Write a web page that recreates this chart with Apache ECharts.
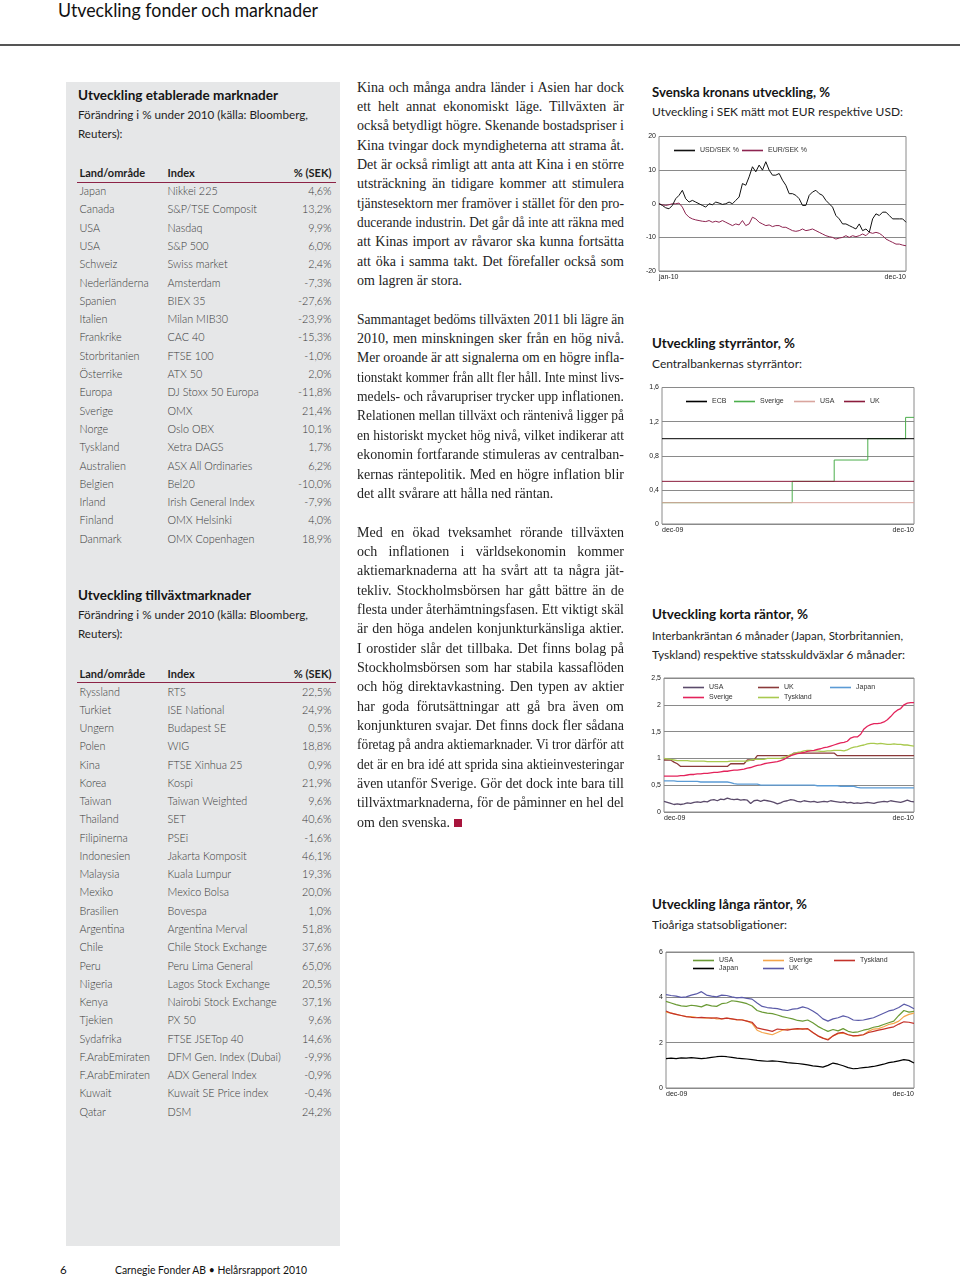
<!DOCTYPE html>
<html><head><meta charset="utf-8">
<script src="https://cdn.jsdelivr.net/npm/echarts@6/dist/echarts.min.js"></script>
<style>
html,body{margin:0;padding:0;background:#fff;}
body{width:960px;height:1279px;position:relative;overflow:hidden;font-family:Lato,'Open Sans',sans-serif;}
.abs{position:absolute;white-space:nowrap;}
#panel{position:absolute;left:66px;top:82px;width:274px;height:1164px;background:#e6e7e8;}
#hline{position:absolute;left:0;top:44px;width:960px;height:1.5px;background:#555;}
.rule{position:absolute;left:77px;width:259px;height:1.5px;background:#8c2346;}
.chart{position:absolute;left:640px;width:280px;}
.body{font-family:'Liberation Serif',serif;font-size:14px;color:#232323;}
.sq{display:inline-block;width:8px;height:8px;background:#a8143c;margin-left:4px;vertical-align:0px;}
</style></head>
<body>
<div id="panel"></div>
<div id="hline"></div>
<div class="rule" style="top:181.5px"></div>
<div class="rule" style="top:681.5px"></div>
<div id="c1" class="chart" style="top:130px;height:155px"></div>
<div id="c2" class="chart" style="top:380px;height:160px"></div>
<div id="c3" class="chart" style="top:670px;height:155px"></div>
<div id="c4" class="chart" style="top:944px;height:160px"></div>
<script>
// ---------- DATA ----------
const pageTitle = 'Utveckling fonder och marknader';
const footerPage = '6';
const footerText = 'Carnegie Fonder AB • Helårsrapport 2010';

const t1Title = 'Utveckling etablerade marknader';
const t2Title = 'Utveckling tillväxtmarknader';
const tSub = ['Förändring i % under 2010 (källa: Bloomberg,', 'Reuters):'];
const tHead = ['Land/område', 'Index', '% (SEK)'];

const estCountries = ['Japan','Canada','USA','USA','Schweiz','Nederländerna','Spanien','Italien','Frankrike','Storbritanien','Österrike','Europa','Sverige','Norge','Tyskland','Australien','Belgien','Irland','Finland','Danmark'];
const estIndex = ['Nikkei 225','S&P/TSE Composit','Nasdaq','S&P 500','Swiss market','Amsterdam','BIEX 35','Milan MIB30','CAC 40','FTSE 100','ATX 50','DJ Stoxx 50 Europa','OMX','Oslo OBX','Xetra DAGS','ASX All Ordinaries','Bel20','Irish General Index','OMX Helsinki','OMX Copenhagen'];
const estChange = ['4,6%','13,2%','9,9%','6,0%','2,4%','-7,3%','-27,6%','-23,9%','-15,3%','-1,0%','2,0%','-11,8%','21,4%','10,1%','1,7%','6,2%','-10,0%','-7,9%','4,0%','18,9%'];

const emCountries = ['Ryssland','Turkiet','Ungern','Polen','Kina','Korea','Taiwan','Thailand','Filipinerna','Indonesien','Malaysia','Mexiko','Brasilien','Argentina','Chile','Peru','Nigeria','Kenya','Tjekien','Sydafrika','F.ArabEmiraten','F.ArabEmiraten','Kuwait','Qatar'];
const emIndex = ['RTS','ISE National','Budapest SE','WIG','FTSE Xinhua 25','Kospi','Taiwan Weighted','SET','PSEi','Jakarta Komposit','Kuala Lumpur','Mexico Bolsa','Bovespa','Argentina Merval','Chile Stock Exchange','Peru Lima General','Lagos Stock Exchange','Nairobi Stock Exchange','PX 50','FTSE JSETop 40','DFM Gen. Index (Dubai)','ADX General Index','Kuwait SE Price index','DSM'];
const emChange = ['22,5%','24,9%','0,5%','18,8%','0,9%','21,9%','9,6%','40,6%','-1,6%','46,1%','19,3%','20,0%','1,0%','51,8%','37,6%','65,0%','20,5%','37,1%','9,6%','14,6%','-9,9%','-0,9%','-0,4%','24,2%'];

const para1 = ['Kina och många andra länder i Asien har dock','ett helt annat ekonomiskt läge. Tillväxten är','också betydligt högre. Skenande bostadspriser i','Kina tvingar dock myndigheterna att strama åt.','Det är också rimligt att anta att Kina i en större','utsträckning än tidigare kommer att stimulera','tjänstesektorn mer framöver i stället för den pro-','ducerande industrin. Det går då inte att räkna med','att Kinas import av råvaror ska kunna fortsätta','att öka i samma takt. Det förefaller också som','om lagren är stora.'];
const para2 = ['Sammantaget bedöms tillväxten 2011 bli lägre än','2010, men minskningen sker från en hög nivå.','Mer oroande är att signalerna om en högre infla-','tionstakt kommer från allt fler håll. Inte minst livs-','medels- och råvarupriser trycker upp inflationen.','Relationen mellan tillväxt och räntenivå ligger på','en historiskt mycket hög nivå, vilket indikerar att','ekonomin fortfarande stimuleras av centralban-','kernas räntepolitik.  Med en högre inflation blir','det allt svårare att hålla ned räntan.'];
const para3 = ['Med en ökad tveksamhet rörande tillväxten','och inflationen i världsekonomin kommer','aktiemarknaderna att ha svårt att ta några jät-','tekliv. Stockholmsbörsen har gått bättre än de','flesta under återhämtningsfasen. Ett viktigt skäl','är den höga andelen konjunkturkänsliga aktier.','I orostider slår det tillbaka. Det finns bolag på','Stockholmsbörsen som har stabila kassaflöden','och hög direktavkastning. Den typen av aktier','har goda förutsättningar att gå bra även om','konjunkturen svajar. Det finns dock fler sådana','företag på andra aktiemarknader. Vi tror därför att','det är en bra idé att sprida sina aktieinvesteringar','även utanför Sverige. Gör det dock inte bara till','tillväxtmarknaderna, för de påminner en hel del','om den svenska.'];

// Chart 1: Svenska kronans utveckling
const c1Title = 'Svenska kronans utveckling, %';
const c1Sub = 'Utveckling i SEK mätt mot EUR respektive USD:';
const c1XLabels = ['jan-10','dec-10'];
const usdSek = [0,-0.5,-1.2,-1.5,-0.5,1.5,2.5,4,1.5,0.5,1,0.5,0,-0.5,-1,0,-0.3,0.5,0.2,-0.2,0,0.5,0,1,2,6,5.5,8,11,9.5,11.5,10,12.5,10,8.5,8.5,9,7,5.5,3,3,2.5,1.5,-0.5,-0.5,2.5,3.5,4,3,2.5,1,0,-1,-3.5,-4.5,-6,-6,-6.5,-7,-7.5,-6,-8,-7.5,-8.5,-4.5,-3,-3.5,-2.5,-2.5,-3.5,-4.5,-4.5,-4.5,-4.5,-5.5];
const eurSek = [0,-0.3,-0.5,-0.3,0,0,0.2,-1,-3,-4,-4.5,-4.8,-5,-5.2,-5.3,-5,-5.5,-5.2,-5.5,-5,-5.5,-6,-6.5,-6,-6.3,-5,-6.5,-6,-4,-4.5,-5.5,-6,-6.5,-6.3,-6.8,-6.5,-6.5,-7,-7,-7.5,-8,-8.2,-8,-7.5,-8,-7.8,-7.5,-8,-8.5,-9,-9.5,-9.8,-10,-10.5,-10.2,-10,-9.5,-10,-9.5,-9.8,-9.5,-9,-9.5,-8.5,-8.8,-8.5,-8.8,-9.5,-10.5,-11,-11.5,-12,-12,-12.3,-12.5];

// Chart 2: Styrräntor (step changes: period index -> rate)
const c2Title = 'Utveckling styrräntor, %';
const c2Sub = 'Centralbankernas styrräntor:';
const c2XLabels = ['dec-09','dec-10'];
const c2Periods = 60;
const ecbAt = [0,60], ecbRate = [1.0,1.0];
const sverigeAt = [0,31,41,49,58,60], sverigeRate = [0.25,0.5,0.75,1.0,1.25,1.25];
const usaAt = [0,60], usaRate = [0.25,0.25];
const ukAt = [0,60], ukRate = [0.5,0.5];

// Chart 3: Korta räntor
const c3Title = 'Utveckling korta räntor, %';
const c3Sub = ['Interbankräntan 6 månader (Japan, Storbritannien,','Tyskland) respektive statsskuldväxlar 6 månader:'];
const c3XLabels = ['dec-09','dec-10'];
const usa3 = [0.2,0.18,0.16,0.14,0.15,0.14,0.15,0.17,0.16,0.18,0.19,0.18,0.2,0.19,0.22,0.23,0.21,0.24,0.23,0.26,0.24,0.23,0.24,0.22,0.23,0.22,0.16,0.21,0.22,0.2,0.22,0.21,0.2,0.18,0.15,0.17,0.2,0.21,0.23,0.22,0.2,0.19,0.21,0.2,0.19,0.2,0.18,0.19,0.2,0.19,0.21,0.2,0.19,0.18,0.19,0.17,0.18,0.16,0.17,0.16,0.17,0.18,0.17,0.16,0.18,0.19,0.2,0.19,0.21,0.2,0.19,0.18,0.2,0.22,0.2,0.19];
const uk3 = [0.97,0.97,0.97,0.93,0.9,0.85,0.85,0.85,0.85,0.85,0.85,0.85,0.85,0.85,0.85,0.85,0.85,0.85,0.85,0.85,0.9,0.9,0.9,0.9,0.9,0.97,0.97,0.97,1.05,1.05,1.05,1.05,1.05,1.05,1.05,1.05,1.05,1.05,1.05,1.1,1.1,1.1,1.1,1.1,1.1,1.1,1.1,1.1,1.1,1.1,1.1,1.1,1.05,1.05,1.05,1.05,1.05,1.05,1.05,1.05,1.05,1.05,1.05,1.05,1.05,1.05,1.05,1.05,1.05,1.05,1.05,1.05,1.05,1.05,1.05,1.05];
const japan3 = [0.58,0.58,0.58,0.58,0.57,0.57,0.57,0.57,0.57,0.57,0.57,0.56,0.56,0.56,0.56,0.56,0.56,0.56,0.56,0.56,0.55,0.53,0.52,0.52,0.52,0.52,0.52,0.52,0.52,0.5,0.5,0.5,0.5,0.5,0.5,0.5,0.5,0.5,0.5,0.5,0.5,0.5,0.5,0.5,0.5,0.5,0.49,0.49,0.49,0.49,0.49,0.49,0.49,0.48,0.48,0.48,0.48,0.48,0.46,0.45,0.45,0.45,0.45,0.45,0.45,0.45,0.45,0.45,0.45,0.45,0.45,0.45,0.45,0.45,0.45,0.45];
const sverige3 = [0.67,0.67,0.67,0.67,0.67,0.68,0.68,0.69,0.7,0.7,0.71,0.71,0.72,0.72,0.73,0.74,0.74,0.75,0.76,0.76,0.77,0.78,0.78,0.79,0.8,0.82,0.83,0.85,0.87,0.88,0.9,0.91,0.92,0.93,0.94,0.96,0.98,1.02,1.05,1.07,1.09,1.1,1.11,1.13,1.14,1.15,1.17,1.18,1.2,1.21,1.23,1.25,1.27,1.29,1.3,1.32,1.38,1.4,1.4,1.45,1.55,1.6,1.63,1.65,1.65,1.66,1.68,1.72,1.78,1.85,1.9,1.93,2.0,2.03,2.04,2.04];
const tyskland3 = [1.0,0.99,0.98,0.97,0.96,0.96,0.96,0.96,0.95,0.95,0.95,0.95,0.95,0.94,0.94,0.94,0.94,0.94,0.94,0.94,0.95,0.95,0.95,0.95,0.95,0.95,0.97,0.98,0.98,0.98,0.98,1.0,1.0,1.0,1.0,1.0,1.02,1.04,1.07,1.09,1.11,1.12,1.14,1.15,1.15,1.14,1.14,1.13,1.13,1.14,1.14,1.15,1.15,1.15,1.14,1.16,1.19,1.21,1.22,1.24,1.25,1.27,1.28,1.28,1.27,1.28,1.27,1.26,1.26,1.27,1.26,1.26,1.25,1.25,1.24,1.23];

// Chart 4: Långa räntor
const c4Title = 'Utveckling långa räntor, %';
const c4Sub = 'Tioåriga statsobligationer:';
const c4XLabels = ['dec-09','dec-10'];
const usa4 = [3.82,3.75,3.68,3.62,3.6,3.65,3.62,3.58,3.68,3.62,3.6,3.72,3.75,3.85,3.82,3.78,3.72,3.62,3.42,3.35,3.3,3.28,3.22,3.15,3.1,3.05,2.98,2.95,3.0,2.88,2.72,2.6,2.5,2.58,2.52,2.62,2.5,2.45,2.48,2.55,2.6,2.68,2.72,2.8,2.88,2.95,3.2,3.42,3.35,3.38];
const sverige4 = [3.35,3.3,3.25,3.2,3.15,3.15,3.12,3.1,3.08,3.1,3.05,3.05,3.08,3.05,3.0,3.02,2.95,2.85,2.55,2.45,2.4,2.35,2.45,2.55,2.6,2.58,2.6,2.62,2.6,2.45,2.3,2.2,2.15,2.3,2.4,2.42,2.35,2.3,2.3,2.35,2.5,2.6,2.62,2.7,2.8,2.85,2.95,3.15,3.25,3.3];
const tyskland4 = [3.4,3.3,3.25,3.2,3.15,3.12,3.1,3.12,3.1,3.08,3.1,3.05,3.08,3.05,3.02,3.0,2.95,2.9,2.65,2.6,2.55,2.5,2.6,2.58,2.55,2.6,2.62,2.6,2.62,2.45,2.3,2.2,2.12,2.3,2.42,2.45,2.35,2.3,2.32,2.35,2.45,2.5,2.55,2.6,2.65,2.7,2.82,2.92,2.9,2.85];
const japan4 = [1.3,1.32,1.3,1.33,1.32,1.34,1.32,1.3,1.32,1.35,1.38,1.4,1.38,1.35,1.32,1.3,1.28,1.25,1.22,1.2,1.18,1.2,1.18,1.15,1.12,1.1,1.08,1.05,1.02,0.98,0.95,0.92,1.0,1.1,1.05,0.98,0.9,0.85,0.87,0.9,0.92,0.95,1.0,1.05,1.12,1.15,1.2,1.25,1.22,1.1];
const uk4 = [4.12,4.08,4.05,4.0,4.02,4.1,4.15,4.25,4.1,4.05,4.02,4.1,4.08,4.02,3.98,4.0,3.95,3.92,3.75,3.6,3.55,3.52,3.5,3.45,3.42,3.48,3.5,3.58,3.52,3.4,3.25,3.05,2.95,3.05,3.1,3.18,3.12,3.0,2.98,3.0,3.05,3.1,3.2,3.3,3.4,3.45,3.55,3.7,3.62,3.5];

// ---------- TEXT LAYOUT ----------
const fits = [];
function put(x, yc, text, style, w, right) {
  const lh = 20;
  const d = document.createElement('div');
  d.className = 'abs';
  d.style.cssText += ';top:' + (yc - lh / 2) + 'px;line-height:' + lh + 'px;' + (style || '');
  const s = document.createElement('span');
  s.style.display = 'inline-block';
  s.textContent = text;
  if (right) { d.style.left = (x - 300) + 'px'; d.style.width = '300px'; d.style.textAlign = 'right'; s.style.transformOrigin = 'right center'; }
  else { d.style.left = x + 'px'; s.style.transformOrigin = 'left center'; }
  d.appendChild(s);
  document.body.appendChild(d);
  if (w) fits.push([s, w]);
  return s;
}
const fTitle = 'font-family:Lato;font-weight:700;font-size:12.5px;color:#141414;';
const fSub = 'font-family:Lato;font-weight:400;font-size:12px;color:#1e1e1e;';
const fHead = 'font-family:Lato;font-weight:700;font-size:11px;color:#1e1e1e;';
const fRow = 'font-family:Lato;font-weight:300;font-size:10.8px;color:#383838;';

put(58, 9.5, pageTitle, 'font-family:Lato;font-size:19.5px;color:#111;', 260);
put(60, 1270, footerPage, 'font-family:Lato;font-size:11.5px;color:#111;');
put(115, 1270, footerText, 'font-family:Lato;font-size:11.5px;color:#111;', 192);

function table(y0, title, countries, idx, chg, pitch) {
  put(77.7, y0, title, fTitle, title === t1Title ? 200 : 173);
  put(77.7, y0 + 19, tSub[0], fSub, 230);
  put(77.7, y0 + 38, tSub[1], fSub, 44.5);
  const yh = y0 + 77.5;
  put(79.5, yh, tHead[0], fHead);
  put(167.5, yh, tHead[1], fHead);
  put(331.5, yh, tHead[2], fHead, null, true);
  countries.forEach((c, i) => {
    const y = yh + 17.8 + pitch * i;
    put(79.5, y, c, fRow);
    put(167.5, y, idx[i], fRow);
    put(331.5, y, chg[i], fRow, null, true);
  });
}
table(95.7, t1Title, estCountries, estIndex, estChange, 18.3);
table(596.3, t2Title, emCountries, emIndex, emChange, 18.26);

// chart titles
put(652, 93, c1Title, fTitle, 178); put(652, 112.3, c1Sub, fSub, 251);
put(652, 344.3, c2Title, fTitle, 143); put(652, 364.3, c2Sub, fSub, 150);
put(652, 615, c3Title, fTitle, 156); put(652, 635.5, c3Sub[0], fSub, 251); put(652, 655, c3Sub[1], fSub, 253);
put(652, 905, c4Title, fTitle, 155); put(652, 925, c4Sub, fSub, 135);

// body text
const BW = 267, LH = 19.35, BT = 77.5;
const bodyFits = [];
let row = 0;
[para1, para2, para3].forEach((p, pi) => {
  p.forEach((line, li) => {
    const last = li === p.length - 1;
    const d = document.createElement('div');
    d.className = 'abs body';
    d.style.left = '357px'; d.style.top = (BT + row * LH) + 'px'; d.style.lineHeight = LH + 'px';
    const s = document.createElement('span');
    s.style.display = 'inline-block'; s.style.transformOrigin = 'left center';
    const t = line.replace(/ +/g, ' ');
    s.textContent = t;
    if (pi === 2 && last) { const q = document.createElement('span'); q.className = 'sq'; s.appendChild(q); }
    d.appendChild(s); document.body.appendChild(d);
    bodyFits.push([s, t, last]);
    row++;
  });
  row++;
});

function doFits() {
  fits.forEach(([s, w]) => { s.style.transform = ''; const nw = s.getBoundingClientRect().width; if (nw > 0) s.style.transform = 'scaleX(' + (w / nw) + ')'; });
  bodyFits.forEach(([s, t, last]) => {
    s.style.transform = ''; s.style.wordSpacing = '';
    const nw = s.getBoundingClientRect().width;
    if (nw > BW) s.style.transform = 'scaleX(' + (BW / nw) + ')';
    else if (!last) { const n = (t.match(/ /g) || []).length; if (n) s.style.wordSpacing = ((BW - nw) / n) + 'px'; }
  });
}
doFits();
if (document.fonts && document.fonts.ready) document.fonts.ready.then(doFits);

// ---------- CHARTS ----------
const AX = {fontSize: 7, color: '#222', fontFamily: 'Liberation Sans'};
function idxPairs(arr) { return arr.map((v, i) => [i, v]); }
function zipPairs(xs, ys) { return xs.map((x, i) => [x, ys[i]]); }
function decimalComma(v) { return String(+v.toFixed(2)).replace('.', ','); }
function makeChart(id, cfg) {
  const ch = echarts.init(document.getElementById(id), null, {renderer: 'canvas'});
  ch.setOption({
    animation: false,
    backgroundColor: 'transparent',
    grid: {left: cfg.g[0], top: cfg.g[1], width: cfg.g[2], height: cfg.g[3], show: true, borderColor: '#8a8a8a', borderWidth: 1, backgroundColor: 'transparent', outerBoundsMode: 'none'},
    xAxis: {type: 'value', min: 0, max: cfg.n, interval: cfg.n, splitLine: {show: false}, axisLine: {show: false}, axisTick: {show: false},
      axisLabel: Object.assign({}, AX, {margin: 3, alignMinLabel: 'left', alignMaxLabel: 'right', formatter: v => (v === 0 ? cfg.xl[0] : cfg.xl[1])})},
    yAxis: {type: 'value', min: cfg.y[0], max: cfg.y[1], interval: cfg.y[2], axisLine: {show: false}, axisTick: {show: false},
      splitLine: {lineStyle: {color: '#8a8a8a', width: 1}},
      axisLabel: Object.assign({}, AX, {margin: 3, formatter: decimalComma})},
    legend: cfg.legends.map(l => ({data: [l[0]], left: l[1], top: l[2], icon: 'rect', itemWidth: 21, itemHeight: 1.6, padding: 0, selectedMode: false,
      textStyle: Object.assign({}, AX, {color: '#333'})})),
    series: cfg.series.map(s => ({name: s[0], type: 'line', data: s[1], showSymbol: false, symbol: 'none', step: s[3] || false, silent: true,
      lineStyle: {color: s[2], width: s[4] || 1}, itemStyle: {color: s[2]}}))
  });
}

makeChart('c1', {g: [19, 6.5, 247, 134.5], n: usdSek.length - 1, xl: c1XLabels, y: [-20, 20, 10],
  legends: [['USD/SEK %', 34, 17], ['EUR/SEK %', 102, 17]],
  series: [['EUR/SEK %', idxPairs(eurSek), '#8d2450'], ['USD/SEK %', idxPairs(usdSek), '#111111']]});

makeChart('c2', {g: [22, 7.5, 252, 136.5], n: c2Periods, xl: c2XLabels, y: [0, 1.6, 0.4],
  legends: [['ECB', 46, 18], ['Sverige', 94, 18], ['USA', 154, 18], ['UK', 204, 18]],
  series: [['Sverige', zipPairs(sverigeAt, sverigeRate), '#4cae4c', 'end'], ['USA', zipPairs(usaAt, usaRate), '#d9a59e', 'end'],
    ['UK', zipPairs(ukAt, ukRate), '#8b1c3c', 'end'], ['ECB', zipPairs(ecbAt, ecbRate), '#000000', 'end']]});

makeChart('c3', {g: [24, 8, 250, 134], n: usa3.length - 1, xl: c3XLabels, y: [0, 2.5, 0.5],
  legends: [['USA', 43, 14], ['UK', 118, 14], ['Japan', 190, 14], ['Sverige', 43, 24], ['Tyskland', 118, 24]],
  series: [['Japan', idxPairs(japan3), '#5b9bd5', false, 1.3], ['USA', idxPairs(usa3), '#5b4b6b', false, 1.3], ['UK', idxPairs(uk3), '#8b3a3a', false, 1.3],
    ['Tyskland', idxPairs(tyskland3), '#a9c94f', false, 1.3], ['Sverige', idxPairs(sverige3), '#e3235b', false, 1.3]]});

makeChart('c4', {g: [26, 8, 248, 136], n: usa4.length - 1, xl: c4XLabels, y: [0, 6, 2],
  legends: [['USA', 53, 13], ['Sverige', 123, 13], ['Tyskland', 194, 13], ['Japan', 53, 21], ['UK', 123, 21]],
  series: [['UK', idxPairs(uk4), '#5a5aa8', false, 1.2], ['USA', idxPairs(usa4), '#6a9a35', false, 1.2], ['Sverige', idxPairs(sverige4), '#f4a54a', false, 1.2],
    ['Tyskland', idxPairs(tyskland4), '#c4322a', false, 1.2], ['Japan', idxPairs(japan4), '#000000', false, 1.2]]});
</script>
</body></html>
